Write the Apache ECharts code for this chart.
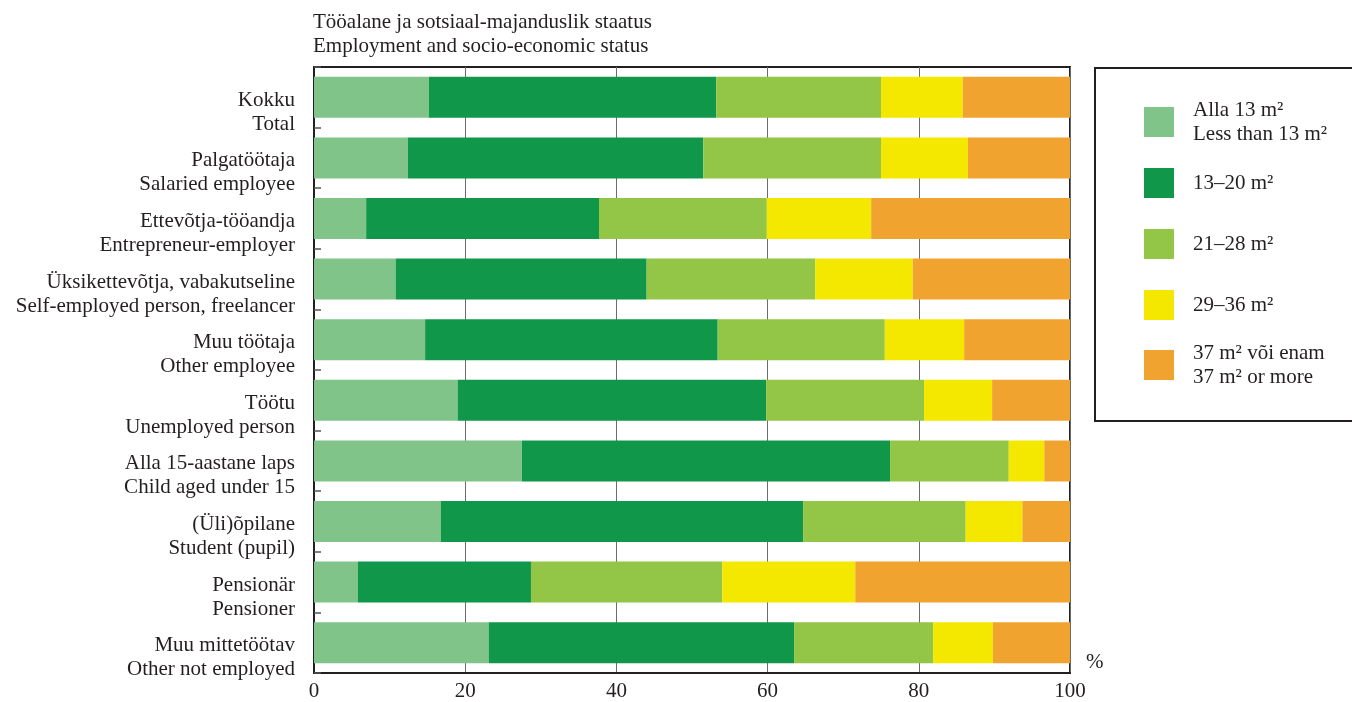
<!DOCTYPE html>
<html><head><meta charset="utf-8">
<script src="https://cdn.jsdelivr.net/npm/echarts@6/dist/echarts.min.js"></script>
<style>html,body{margin:0;padding:0;background:#fff}#c{width:1352px;height:702px}</style>
</head><body><div id="c"></div>
<script>
const categories = [
  'Kokku\nTotal',
  'Palgatöötaja\nSalaried employee',
  'Ettevõtja-tööandja\nEntrepreneur-employer',
  'Üksikettevõtja, vabakutseline\nSelf-employed person, freelancer',
  'Muu töötaja\nOther employee',
  'Töötu\nUnemployed person',
  'Alla 15-aastane laps\nChild aged under 15',
  '(Üli)õpilane\nStudent (pupil)',
  'Pensionär\nPensioner',
  'Muu mittetöötav\nOther not employed'
];
const seriesNames = [
  'Alla 13 m²\nLess than 13 m²',
  '13–20 m²',
  '21–28 m²',
  '29–36 m²',
  '37 m² või enam\n37 m² or more'
];
const under13  = [15.2, 12.4, 6.9, 10.8, 14.7, 19.0, 27.5, 16.8, 5.8, 23.1];
const m13to20  = [38.0, 39.1, 30.8, 33.2, 38.7, 40.8, 48.7, 47.9, 22.9, 40.4];
const m21to28  = [21.8, 23.5, 22.2, 22.3, 22.1, 20.9, 15.7, 21.5, 25.3, 18.4];
const m29to36  = [10.8, 11.5, 13.8, 12.9, 10.5, 9.0, 4.7, 7.5, 17.6, 7.9];
const m37plus  = [14.2, 13.5, 26.3, 20.8, 14.0, 10.3, 3.4, 6.3, 28.4, 10.2];
const xTicks = [0, 20, 40, 60, 80, 100];
const titleText = 'Tööalane ja sotsiaal-majanduslik staatus\nEmployment and socio-economic status';

const colors = ['#80c48a', '#10974a', '#93c547', '#f5e800', '#f0a32e'];
const values = [under13, m13to20, m21to28, m29to36, m37plus];
const font = 'Liberation Serif';
const fs = 21;
const txt = '#231f20';

const chart = echarts.init(document.getElementById('c'), null, {renderer: 'canvas'});

const swatchTops = [102, 163, 224, 285, 345];
const legends = seriesNames.map((n, i) => {
  const twoLine = n.indexOf('\n') >= 0;
  return {
    data: [n],
    orient: 'vertical',
    left: 1139,
    top: swatchTops[i] - (twoLine ? 9 : 0),
    itemWidth: 30, itemHeight: 30,
    icon: 'rect',
    selectedMode: false,
    itemStyle: {borderWidth: 0},
    textStyle: {fontFamily: font, fontSize: fs, lineHeight: 24, color: txt, padding: [0, 0, 0, 14]}
  };
});

chart.setOption({
  animation: false,
  title: {
    text: titleText,
    left: 313, top: 10,
    textStyle: {fontFamily: font, fontSize: fs, lineHeight: 24, fontWeight: 'normal', color: txt},
    padding: 0
  },
  legend: legends,
  grid: {left: 314, right: 282, top: 67, bottom: 29, show: true, borderColor: txt, borderWidth: 2, backgroundColor: 'transparent'},
  xAxis: {
    type: 'value', min: 0, max: 100, interval: 20,
    axisLine: {show: true, lineStyle: {color: txt, width: 2}},
    axisTick: {show: false},
    axisLabel: {fontFamily: font, fontSize: fs, color: txt, margin: 8,
      formatter: v => xTicks.indexOf(v) >= 0 ? String(v) : ''},
    splitLine: {show: true, lineStyle: {color: '#6b6b6b', width: 1}}
  },
  yAxis: {
    type: 'category', data: categories, inverse: true,
    axisLine: {show: true, lineStyle: {color: txt, width: 2}},
    axisTick: {show: true, inside: true, length: 7, lineStyle: {color: '#555', width: 1.5}},
    axisLabel: {
      interval: 0, showMinLabel: true, showMaxLabel: true, hideOverlap: false,
      margin: 19, align: 'right',
      formatter: v => '{s| }\n' + v.split('\n').map(l => '{t|' + l + '}').join('\n'),
      rich: {
        s: {fontFamily: font, fontSize: 4, lineHeight: 30, color: txt},
        t: {fontFamily: font, fontSize: fs, lineHeight: 24, color: txt, align: 'right'}
      }
    },
    splitLine: {show: false}
  },
  graphic: [
    {type: 'rect', shape: {x: 1095, y: 68, width: 300, height: 353}, style: {fill: 'none', stroke: txt, lineWidth: 2}, silent: true},
    {type: 'text', left: 1086, top: 652, style: {text: '%', font: fs + 'px "Liberation Serif"', fill: txt}, silent: true}
  ],
  series: seriesNames.map((n, i) => ({
    name: n, type: 'bar', stack: 'total', data: values[i],
    barWidth: 41,
    itemStyle: {color: colors[i]},
    emphasis: {disabled: true}
  }))
});
</script></body></html>
